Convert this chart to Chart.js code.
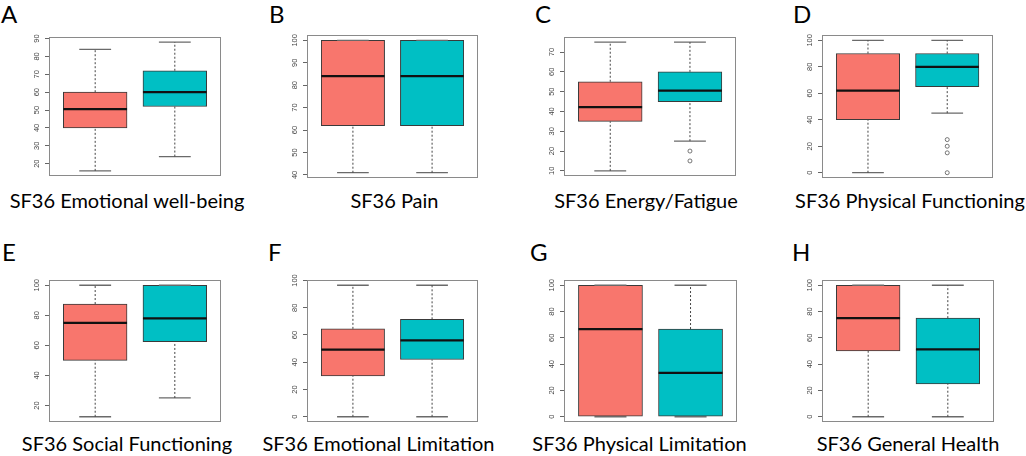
<!DOCTYPE html>
<html><head><meta charset="utf-8">
<script src="https://cdn.jsdelivr.net/npm/chart.js@4.4.1/dist/chart.umd.min.js"></script>
<style>
html,body{margin:0;padding:0;background:#fff;}
#wrap{position:relative;width:1026px;height:456px;overflow:hidden;background:#fff;}
.letter{position:absolute;font-family:Lato,'Open Sans',sans-serif;font-size:24px;line-height:1.2;color:#000;}
.title{position:absolute;width:300px;text-align:center;font-family:Lato,'Open Sans',sans-serif;font-size:20px;line-height:1.2;color:#000;white-space:nowrap;}
canvas{position:absolute;}
</style></head><body><div id="wrap"></div>
<script>
// ---- data ----
const letters = ['A','B','C','D','E','F','G','H'];
const titles = ['SF36 Emotional well-being','SF36 Pain','SF36 Energy/Fatigue','SF36 Physical Functioning',
                'SF36 Social Functioning','SF36 Emotional Limitation','SF36 Physical Limitation','SF36 General Health'];
const groups = [1, 2];
const redLow    = [16, 41, 10,  0, 12.5,  0,    0,   0];
const redQ1     = [40, 62, 35, 40, 50,   30,    0,  50];
const redMedian = [50.5, 84, 42.2, 62, 75, 49.2, 66.7, 75];
const redQ3     = [60, 100, 55, 90, 87.5, 64.5, 100, 100];
const redHigh   = [84, 100, 75, 100, 100, 96.5, 100, 100];
const tealLow    = [24, 41, 25, 45, 25,  0,    0,   0];
const tealQ1     = [52, 62, 45, 65, 62.5, 42,  0,  25];
const tealMedian = [60, 84, 50.5, 80, 78, 56, 33.3, 51.2];
const tealQ3     = [72, 100, 60, 90, 100, 71.5, 66.7, 75];
const tealHigh   = [88, 100, 75, 100, 100, 96.5, 100, 100];
const redOutliers  = [[], [], [], [], [], [], [], []];
const tealOutliers = [[], [], [20, 15], [25, 20, 15, 0], [], [], [], []];
const yTicks = [
  [20,30,40,50,60,70,80,90],
  [40,50,60,70,80,90,100],
  [10,20,30,40,50,60,70],
  [0,20,40,60,80,100],
  [20,40,60,80,100],
  [0,20,40,60,80,100],
  [0,20,40,60,80,100],
  [0,20,40,60,80,100]
];
const RED = '#F8766D', TEAL = '#00BFC4';

// ---- layout ----
const frameLeft  = [49, 307, 564, 822, 49, 307, 564, 822];
const frameRight = [221, 478, 737, 994, 221, 478, 737, 994];
const frameTop   = [33, 33, 33, 33, 278, 278, 278, 278];
const frameBot   = [180, 180, 180, 180, 424, 424, 424, 424];
const letterPos  = [[1,0],[269,0],[535,0],[793,0],[2,238],[268,238],[530,238],[792,238]];
const titleCx    = [127, 394.5, 646, 910, 127, 378.5, 639.5, 908];
const titleTop   = [187.5, 187.5, 187.5, 187.5, 430.5, 430.5, 430.5, 430.5];
const AXW = 30, PAD = 4;

const wrap = document.getElementById('wrap');

const framePlugin = {
  id: 'frame',
  afterDraw(chart) {
    const a = chart.chartArea, c = chart.ctx;
    c.save();
    c.strokeStyle = '#8a8a8a';
    c.lineWidth = 1;
    c.strokeRect(Math.round(a.left) + 0.5, Math.round(a.top) + 0.5,
                 Math.round(a.right - a.left) - 1, Math.round(a.bottom - a.top) - 1);
    c.restore();
  }
};

for (let i = 0; i < 8; i++) {
  const L = document.createElement('div');
  L.className = 'letter'; L.textContent = letters[i];
  L.style.left = letterPos[i][0] + 'px'; L.style.top = letterPos[i][1] + 'px';
  wrap.appendChild(L);
  const T = document.createElement('div');
  T.className = 'title'; T.textContent = titles[i];
  T.style.left = (titleCx[i] - 150) + 'px'; T.style.top = titleTop[i] + 'px';
  wrap.appendChild(T);

  const cv = document.createElement('canvas');
  const w = frameRight[i] - frameLeft[i] + AXW + PAD;
  const h = frameBot[i] - frameTop[i] + 2 * PAD;
  cv.width = w; cv.height = h;
  cv.style.width = w + 'px'; cv.style.height = h + 'px';
  cv.style.left = (frameLeft[i] - AXW) + 'px';
  cv.style.top = (frameTop[i] - PAD) + 'px';
  wrap.appendChild(cv);

  const lows = [redLow[i], tealLow[i]], q1s = [redQ1[i], tealQ1[i]], meds = [redMedian[i], tealMedian[i]];
  const q3s = [redQ3[i], tealQ3[i]], highs = [redHigh[i], tealHigh[i]];
  const outs = [redOutliers[i], tealOutliers[i]];

  const allVals = lows.concat(highs, outs[0], outs[1]);
  const dmin = Math.min(...allVals), dmax = Math.max(...allVals);
  const ext = 0.04 * (dmax - dmin);

  const boxData = groups.map((g, k) => ({x: g, y: [q1s[k], q3s[k]]}));
  const medData = [], whiskData = [], stapleData = [], outData = [];
  groups.forEach((g, k) => {
    if (k > 0) { medData.push({x: g - 0.5, y: null}); whiskData.push({x: g - 0.5, y: null}); stapleData.push({x: g - 0.5, y: null}); }
    medData.push({x: g - 0.4, y: meds[k]}, {x: g + 0.4, y: meds[k]});
    whiskData.push({x: g, y: lows[k]}, {x: g, y: q1s[k]}, {x: g, y: null}, {x: g, y: q3s[k]}, {x: g, y: highs[k]});
    stapleData.push({x: g - 0.2, y: lows[k]}, {x: g + 0.2, y: lows[k]}, {x: g + 0.2, y: null},
                    {x: g - 0.2, y: highs[k]}, {x: g + 0.2, y: highs[k]});
    outs[k].forEach(v => outData.push({x: g, y: v}));
  });

  const maxTick = Math.max(...yTicks[i]);
  const tickPad = maxTick >= 100 ? 1.5 : 3.5;

  new Chart(cv, {
    type: 'bar',
    data: {
      datasets: [
        { type: 'line', data: outData, showLine: false, pointRadius: 2, pointStyle: 'circle',
          pointBorderColor: '#555', pointBackgroundColor: 'rgba(0,0,0,0)', pointBorderWidth: 0.8, order: 0 },
        { type: 'line', data: medData, borderColor: '#111', borderWidth: 2.2, pointRadius: 0, fill: false, order: 1 },
        { type: 'line', data: whiskData, borderColor: '#444', borderWidth: 1, borderDash: [2, 2], pointRadius: 0, fill: false, order: 2 },
        { type: 'line', data: stapleData, borderColor: '#6a6a6a', borderWidth: 1.3, pointRadius: 0, fill: false, order: 2 },
        { type: 'bar', data: boxData, backgroundColor: [RED, TEAL], borderColor: '#3a3a3a', borderWidth: 1,
          borderSkipped: false, barThickness: 'flex', barPercentage: 0.8, categoryPercentage: 1, order: 3 }
      ]
    },
    options: {
      responsive: false, animation: false, devicePixelRatio: 1,
      layout: { padding: { left: 0, right: PAD, top: PAD, bottom: PAD } },
      plugins: { legend: { display: false }, tooltip: { enabled: false } },
      events: [],
      scales: {
        x: {
          type: 'linear', min: 0.42, max: 2.58, offset: false, bounds: 'data',
          afterBuildTicks: s => { s.ticks = groups.map(v => ({value: v})); },
          afterFit: s => { s.height = 0; },
          ticks: { display: false }, grid: { display: false, offset: false }, border: { display: false }
        },
        y: {
          type: 'linear', min: dmin - ext, max: dmax + ext,
          afterBuildTicks: s => { s.ticks = yTicks[i].map(v => ({value: v})); },
          afterFit: s => { s.width = AXW; },
          ticks: { autoSkip: false, minRotation: 90, maxRotation: 90, crossAlign: 'center', padding: tickPad,
                   color: '#444', font: { family: 'Liberation Sans', size: 7.5 } },
          grid: { display: true, drawOnChartArea: false, drawTicks: true, tickLength: 4, color: '#666', lineWidth: 1 },
          border: { display: false }
        }
      }
    },
    plugins: [framePlugin]
  });
}
</script>
</body></html>
